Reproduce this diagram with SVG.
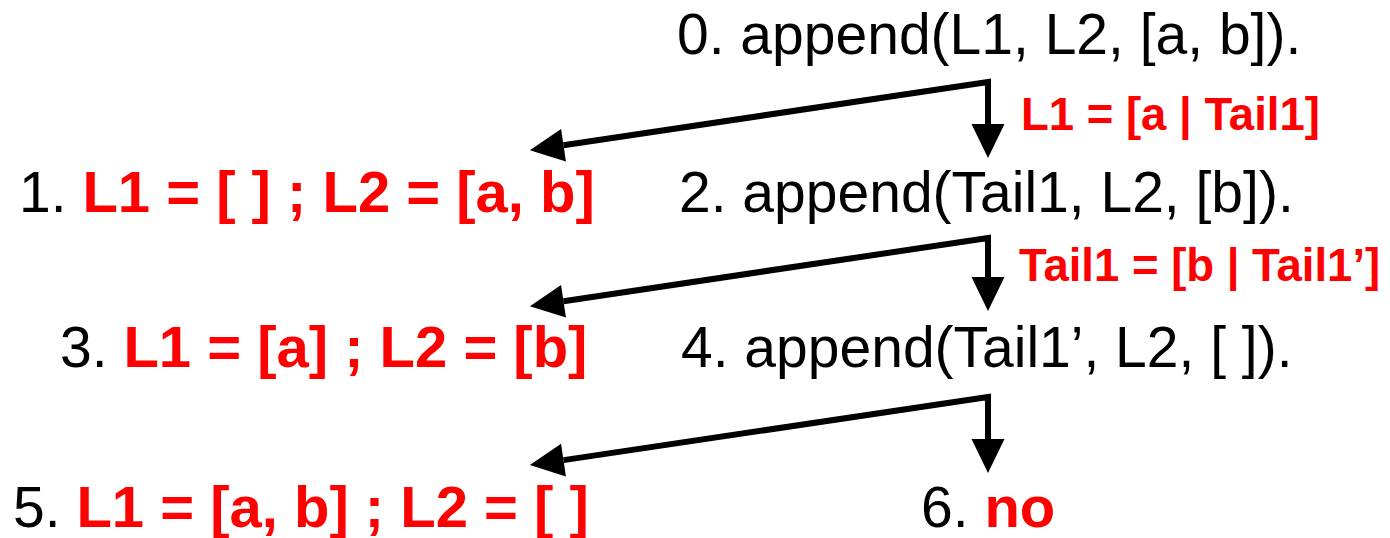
<svg xmlns="http://www.w3.org/2000/svg" width="1390" height="538" viewBox="0 0 1390 538">
<style>
text{font-family:"Liberation Sans",Arial,Helvetica,sans-serif;font-size:57px;fill:#000}
.r{fill:#ff0000;font-weight:bold;font-size:58px}
.lbl{font-size:45.5px}
.c{fill:none;stroke:#000;stroke-width:6;stroke-linejoin:miter}
</style>
<defs>
<marker id="ah" markerUnits="userSpaceOnUse" markerWidth="36" markerHeight="34" refX="0" refY="16.5" orient="auto-start-reverse" overflow="visible">
<path d="M0,0 L34,16.5 L0,33 Z" fill="#000"/>
</marker>
</defs>
<g id="connectors">
<path class="c" d="M563.5,145.2 L988,82 L988,124" marker-start="url(#ah)" marker-end="url(#ah)"/>
<path class="c" d="M563.5,301.2 L988,238 L988,277" marker-start="url(#ah)" marker-end="url(#ah)"/>
<path class="c" d="M563.5,460.1 L988,397 L988,439" marker-start="url(#ah)" marker-end="url(#ah)"/>
</g>
<g id="n0"><text x="677" y="54">0. append(L1, L2, [a, b]).</text></g>
<g id="lbl1"><text class="r lbl" x="1021" y="130">L1 = [a | Tail1]</text></g>
<g id="n1"><text x="19" y="212">1. <tspan class="r">L1 = [ ] ; L2 = [a, b]</tspan></text></g>
<g id="n2"><text x="679" y="212">2. append(Tail1, L2, [b]).</text></g>
<g id="lbl2"><text class="r lbl" x="1019" y="281">Tail1 = [b | Tail1’]</text></g>
<g id="n3"><text x="60" y="367">3. <tspan class="r">L1 = [a] ; L2 = [b]</tspan></text></g>
<g id="n4"><text x="681" y="367">4. append(Tail1’, L2, [ ]).</text></g>
<g id="n5"><text x="13" y="527">5. <tspan class="r">L1 = [a, b] ; L2 = [ ]</tspan></text></g>
<g id="n6"><text x="921" y="527">6. <tspan class="r">no</tspan></text></g>
</svg>
